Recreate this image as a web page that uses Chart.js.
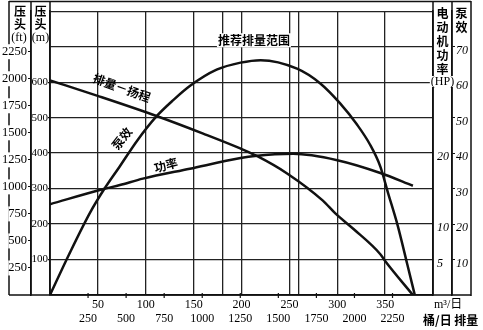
<!DOCTYPE html>
<html>
<head>
<meta charset="utf-8">
<script src="https://cdn.jsdelivr.net/npm/chart.js@4.4.0/dist/chart.umd.min.js"></script>
<style>
html, body { margin: 0; padding: 0; background: #fff; }
canvas { display: block; }
</style>
</head>
<body>
<canvas id="pumpChart" width="483" height="330"></canvas>
<script>
// flow (m3/day) vs head (m)
const headFlow = [0, 49, 112, 160, 198, 216, 248, 285, 298, 317, 345, 350, 379];
const headValues = [605, 562, 504, 455, 414, 392, 342, 266, 230, 186, 115, 96, 0];

// flow (m3/day) vs pump efficiency (%)
const effFlow = [0, 20, 42, 56, 73, 91, 110, 129, 146, 174, 199, 220, 258, 282, 303, 321, 334, 345, 353, 363, 373, 381];
const effValues = [0, 11.5, 23.3, 29.6, 36.3, 43.5, 50, 55, 58.9, 63.5, 65.5, 66.2, 63.8, 59.7, 54, 47.9, 42.5, 36.2, 28.8, 19.7, 8.8, 0];

// flow (m3/day) vs motor power (HP)
const powerFlow = [0, 55, 73, 97, 146, 199, 214, 254, 300, 345, 379];
const powerValues = [12.8, 14.9, 15.5, 16.4, 17.8, 19.3, 19.6, 19.9, 19.0, 17.2, 15.4];

// tick labels
const flowTicks = [50, 100, 150, 200, 250, 300, 350];
const rangeLines = [180, 260];           // recommended flow range
const bblTicks = [250, 500, 750, 1000, 1250, 1500, 1750, 2000, 2250];
const headTicks = [100, 200, 300, 400, 500, 600];
const ftTicks = [250, 500, 750, 1000, 1250, 1500, 1750, 2000, 2250];
const hpTicks = [5, 10, 20];
const effTicks = [10, 20, 30, 40, 50, 60, 70];

// labels placed on the plot (flow, head in m, rotation in degrees)
const curveLabels = [
    { text: '排量－扬程', q: 75, h: 584, angle: 20 },
    { text: '泵效', q: 75, h: 441, angle: -52 },
    { text: '功率', q: 121, h: 366, angle: -15 },
    { text: '推荐排量范围', q: 213, h: 718, angle: 0 }
];

const M3_PER_BBL = 0.158987;
const FT_PER_M = 3.28084;
const FRAME_INSET = 9;   // outer frame line sits inside the ft label column

const ink = '#111';
const gridColor = '#222';
const numFont = { family: "'Liberation Serif', serif", size: 12 };
const italicFont = { family: "'Liberation Serif', serif", size: 12, style: 'italic' };
const cjk = "'Noto Sans CJK SC', sans-serif";

function toPoints(xs, ys) {
    return xs.map((x, i) => ({ x: x, y: ys[i] }));
}

const framePlugin = {
    id: 'frame',
    beforeDraw(chart) {
        const ctx = chart.ctx;
        const s = chart.scales;
        const area = chart.chartArea;
        ctx.save();
        ctx.fillStyle = '#fff';
        ctx.fillRect(0, 0, chart.width, chart.height);
        ctx.strokeStyle = ink;
        ctx.lineWidth = 1.5;
        ctx.beginPath();
        ctx.moveTo(s.ft.left + FRAME_INSET, 1);
        ctx.lineTo(s.ft.left + FRAME_INSET, area.bottom);
        ctx.stroke();
        ctx.restore();
    },
    afterDraw(chart) {
        const ctx = chart.ctx;
        const s = chart.scales;
        const area = chart.chartArea;
        const left = s.ft.left + FRAME_INSET, right = s.eff.right;
        ctx.save();
        ctx.strokeStyle = ink;
        ctx.lineWidth = 1.5;
        ctx.beginPath();
        ctx.moveTo(left, 1.5); ctx.lineTo(right, 1.5);
        ctx.moveTo(left, area.bottom); ctx.lineTo(right, area.bottom);
        ctx.moveTo(right, 1); ctx.lineTo(right, area.bottom + 1);
        [s.ft.right, s.m.right, s.hp.left, s.eff.left].forEach(x => {
            ctx.moveTo(x, 1); ctx.lineTo(x, area.bottom);
        });
        ctx.stroke();

        // barrel ticks on the base line
        ctx.lineWidth = 1.2;
        ctx.beginPath();
        bblTicks.forEach(v => {
            const x = s.bbl.getPixelForValue(v);
            ctx.moveTo(x, area.bottom - 2);
            ctx.lineTo(x, area.bottom + 3);
        });
        ctx.stroke();

        ctx.fillStyle = '#000';
        ctx.textAlign = 'center';
        ctx.textBaseline = 'middle';

        // column headers
        const colFt = (left + s.ft.right) / 2;
        const colM = (s.m.left + s.m.right) / 2;
        const colHp = (s.hp.left + s.hp.right) / 2;
        const colEff = (s.eff.left + s.eff.right) / 2;
        ctx.font = 'bold 12px ' + cjk;
        ctx.fillText('压', colFt, 11); ctx.fillText('头', colFt, 24);
        ctx.fillText('压', colM, 11); ctx.fillText('头', colM, 24);
        ['电', '动', '机', '功', '率'].forEach((c, i) => ctx.fillText(c, colHp, 13 + i * 14));
        ctx.fillText('泵', colEff, 13); ctx.fillText('效', colEff, 27);
        ctx.font = "12px 'Liberation Serif', serif";
        ctx.fillText('(ft)', colFt - 1, 38);
        ctx.fillText('(m)', colM, 38);
        const hpW = ctx.measureText('(HP)').width;
        ctx.fillStyle = '#fff';
        ctx.fillRect(colHp - hpW / 2 - 1, 76, hpW + 2, 11);
        ctx.fillStyle = '#000';
        ctx.fillText('(HP)', colHp, 82);

        // unit captions at the bottom right
        ctx.textAlign = 'left';
        ctx.font = "12px 'Liberation Serif', " + cjk;
        ctx.fillText('m³/日', s.hp.left + 1, 305);
        ctx.font = 'bold 12px ' + cjk;
        ctx.fillText('桶/日 排量', s.hp.left - 10, 320);

        // curve names
        ctx.textAlign = 'center';
        ctx.font = 'bold 12px ' + cjk;
        curveLabels.forEach(l => {
            const x = s.x.getPixelForValue(l.q);
            const y = s.m.getPixelForValue(l.h);
            ctx.save();
            ctx.translate(x, y);
            ctx.rotate(l.angle * Math.PI / 180);
            if (l.angle === 0) {
                const w = ctx.measureText(l.text).width;
                ctx.fillStyle = '#fff';
                ctx.fillRect(-w / 2 - 1, -7, w + 2, 14);
                ctx.fillStyle = '#000';
            }
            ctx.fillText(l.text, 0, 0);
            ctx.restore();
        });
        ctx.restore();
    }
};

new Chart(document.getElementById('pumpChart'), {
    type: 'line',
    data: {
        datasets: [
            { label: '排量－扬程', data: toPoints(headFlow, headValues), xAxisID: 'x', yAxisID: 'm' },
            { label: '泵效', data: toPoints(effFlow, effValues), xAxisID: 'x', yAxisID: 'eff' },
            { label: '功率', data: toPoints(powerFlow, powerValues), xAxisID: 'x', yAxisID: 'hp' }
        ]
    },
    options: {
        responsive: false,
        animation: false,
        devicePixelRatio: 1,
        layout: { padding: { left: 0, right: 12, top: 2, bottom: 0 } },
        plugins: { legend: { display: false }, tooltip: { enabled: false } },
        elements: {
            point: { radius: 0 },
            line: { borderColor: ink, borderWidth: 2.5, cubicInterpolationMode: 'monotone', fill: false }
        },
        scales: {
            x: {
                type: 'linear', axis: 'x', position: 'bottom', min: 0, max: 400, weight: 0,
                afterBuildTicks: sc => {
                    sc.ticks = [0].concat(flowTicks, rangeLines, [400]).sort((a, b) => a - b).map(v => ({ value: v }));
                },
                afterFit: sc => { sc.height = 17; },
                grid: { color: gridColor, lineWidth: 1.3, drawTicks: false },
                border: { display: true, color: ink, width: 1.5 },
                ticks: {
                    autoSkip: false, maxRotation: 0, padding: 3, color: '#000', font: numFont,
                    callback: v => flowTicks.includes(v) ? String(v) : ''
                }
            },
            bbl: {
                type: 'linear', axis: 'x', position: 'bottom', min: 0, max: 400 / M3_PER_BBL, weight: 1,
                afterBuildTicks: sc => { sc.ticks = bblTicks.map(v => ({ value: v })); },
                afterFit: sc => { sc.height = 18; },
                grid: { display: false, drawOnChartArea: false, drawTicks: false },
                border: { display: false },
                ticks: { autoSkip: false, maxRotation: 0, padding: 0, color: '#000', font: numFont, callback: v => String(v) }
            },
            m: {
                type: 'linear', axis: 'y', position: 'left', min: 0, max: 800, weight: 0,
                afterFit: sc => { sc.width = 19; },
                grid: {
                    color: gridColor, lineWidth: 1.3, tickLength: 2,
                    tickColor: c => (c.tick && headTicks.includes(c.tick.value)) ? ink : 'rgba(0,0,0,0)'
                },
                border: { display: true, color: ink, width: 1.5 },
                ticks: {
                    stepSize: 100, padding: 0, color: '#000',
                    font: { family: "'Liberation Serif', serif", size: 11 },
                    callback: v => headTicks.includes(v) ? String(v) : ''
                }
            },
            ft: {
                type: 'linear', axis: 'y', position: 'left', min: 0, max: 800 * FT_PER_M, weight: 1,
                afterBuildTicks: sc => { sc.ticks = ftTicks.map(v => ({ value: v })); },
                afterFit: sc => { sc.width = 31; },
                grid: { drawOnChartArea: false, tickLength: 3, color: ink },
                border: { display: true, color: ink, width: 1.5 },
                ticks: {
                    padding: 1, color: '#000', font: { family: "'Liberation Serif', serif", size: 12.5 },
                    showLabelBackdrop: true, backdropColor: '#fff', backdropPadding: 0,
                    callback: v => String(v)
                }
            },
            hp: {
                type: 'linear', axis: 'y', position: 'right', min: 0, max: 40, weight: 0,
                afterBuildTicks: sc => { sc.ticks = hpTicks.map(v => ({ value: v })); },
                afterFit: sc => { sc.width = 19; },
                grid: { drawOnChartArea: false, drawTicks: false },
                border: { display: true, color: ink, width: 1.5 },
                ticks: { padding: 4, labelOffset: 4, color: '#000', font: italicFont, callback: v => String(v) }
            },
            eff: {
                type: 'linear', axis: 'y', position: 'right', min: 0, max: 80, weight: 1,
                afterBuildTicks: sc => { sc.ticks = effTicks.map(v => ({ value: v })); },
                afterFit: sc => { sc.width = 19; },
                grid: { drawOnChartArea: false, tickLength: 3, color: ink },
                border: { display: true, color: ink, width: 1.5 },
                ticks: { padding: 1, labelOffset: 4, color: '#000', font: italicFont, callback: v => String(v) }
            }
        }
    },
    plugins: [framePlugin]
});
</script>
</body>
</html>
